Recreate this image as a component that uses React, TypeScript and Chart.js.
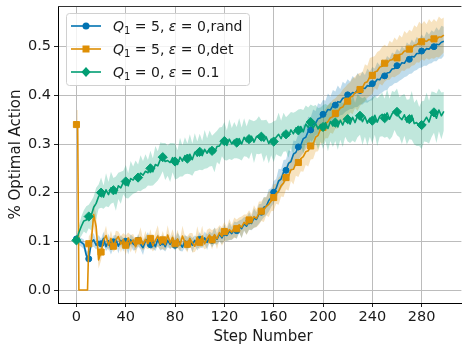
import React, { useEffect, useRef } from 'react';
import { Chart, registerables } from 'chart.js';

Chart.register(...registerables);

// ---------- data (values in thousandths of "optimal action" fraction) ----------
const STEP = 2; // every second step is listed
const X_TICKS = [0, 40, 80, 120, 160, 200, 240, 280];
const Y_TICKS = [0, 0.1, 0.2, 0.3, 0.4, 0.5];
const SERIES_NAMES = ['Q1=5, eps=0,rand', 'Q1=5, eps=0,det', 'Q1=0, eps=0.1'];
const COLORS = ['#0173b2', '#de8f05', '#029e73'];

const RAND_MEAN = [
  105, 100, 98, 94, 72, 64, 98, 103, 92, 100,
  95, 106, 89, 101, 84, 99, 104, 90, 102, 93,
  100, 88, 103, 95, 91, 102, 94, 87, 101, 105,
  93, 100, 89, 104, 92, 99, 89, 102, 94, 101,
  92, 104, 95, 88, 101, 94, 103, 92, 102, 95,
  104, 96, 107, 98, 109, 102, 112, 104, 115, 107,
  118, 112, 121, 116, 125, 122, 130, 126, 136, 131,
  142, 137, 148, 145, 156, 160, 170, 172, 184, 190,
  201, 209, 224, 228, 242, 246, 260, 264, 279, 283,
  294, 298, 311, 314, 326, 329, 340, 343, 352, 354,
  361, 363, 371, 370, 379, 380, 387, 386, 394, 395,
  401, 400, 406, 405, 411, 410, 415, 414, 420, 419,
  424, 426, 433, 432, 440, 440, 446, 447, 454, 455,
  461, 460, 467, 466, 474, 474, 480, 479, 486, 486,
  491, 490, 496, 495, 500, 500, 505, 504, 509, 511,
];
const RAND_SD = [
  6, 8, 9, 10, 11, 12, 11, 14, 9, 13,
  10, 14, 9, 15, 11, 13, 9, 15, 10, 14,
  9, 15, 11, 14, 9, 13, 10, 15, 9, 14,
  10, 15, 9, 13, 11, 15, 10, 14, 9, 13,
  11, 14, 15, 9, 13, 14, 9, 15, 10, 14,
  15, 10, 13, 16, 11, 14, 17, 11, 15, 13,
  16, 12, 18, 13, 16, 17, 13, 19, 14, 17,
  18, 14, 20, 15, 20, 17, 21, 18, 23, 19,
  23, 19, 25, 20, 25, 22, 27, 21, 28, 23,
  27, 23, 29, 24, 30, 26, 31, 25, 32, 27,
  30, 26, 33, 27, 32, 28, 33, 27, 34, 29,
  32, 28, 34, 29, 35, 29, 34, 28, 35, 30,
  34, 29, 35, 30, 34, 30, 35, 29, 34, 30,
  35, 30, 34, 29, 35, 30, 35, 29, 34, 30,
  34, 29, 35, 30, 34, 30, 35, 29, 34, 30,
];

const DET_MEAN = [
  340, 0, 0, 0, 0, 95, 100, 155, 130, 62,
  78, 102, 112, 92, 106, 90, 103, 110, 94, 104,
  92, 107, 95, 103, 89, 101, 108, 93, 104, 95,
  106, 91, 102, 111, 94, 103, 93, 113, 97, 108,
  95, 105, 92, 111, 98, 94, 106, 97, 90, 109,
  98, 111, 95, 106, 113, 103, 114, 105, 118, 110,
  120, 115, 124, 119, 128, 126, 134, 129, 139, 134,
  144, 140, 151, 147, 158, 162, 165, 172, 176, 183,
  190, 198, 203, 214, 220, 231, 234, 247, 248, 260,
  262, 270, 274, 284, 286, 296, 300, 314, 318, 330,
  334, 342, 346, 354, 356, 363, 366, 374, 376, 385,
  388, 396, 398, 406, 406, 412, 416, 426, 428, 438,
  441, 448, 450, 458, 460, 466, 466, 472, 473, 478,
  477, 484, 485, 491, 491, 495, 496, 503, 504, 509,
  510, 512, 511, 515, 513, 516, 515, 520, 520, 524,
];
const DET_SD = [
  30, 0, 0, 0, 0, 15, 18, 24, 25, 18,
  17, 12, 20, 11, 16, 12, 19, 10, 17, 13,
  20, 11, 18, 12, 15, 10, 21, 12, 17, 11,
  19, 12, 16, 22, 11, 18, 12, 20, 13, 17,
  11, 19, 12, 21, 13, 17, 11, 20, 12, 22,
  13, 21, 12, 18, 14, 20, 13, 21, 15, 19,
  20, 14, 22, 15, 21, 19, 15, 22, 16, 21,
  20, 16, 23, 18, 24, 20, 25, 19, 26, 21,
  27, 21, 28, 22, 29, 24, 30, 23, 31, 25,
  30, 26, 31, 27, 32, 28, 31, 30, 33, 29,
  33, 30, 34, 31, 35, 31, 34, 30, 36, 32,
  35, 31, 37, 32, 38, 34, 32, 38, 33, 39,
  38, 33, 39, 34, 40, 38, 34, 40, 35, 41,
  36, 40, 34, 41, 36, 40, 35, 41, 36, 42,
  36, 41, 35, 42, 37, 41, 36, 42, 37, 36,
];
// extra odd steps of the deterministic run: [step, mean, sd]
const DET_EXTRA = [
  [1, 340, 30],
  [9, 0, 0],
];

const EPS_MEAN = [
  102, 118, 131, 142, 144, 151, 153, 170, 178, 192,
  200, 191, 206, 196, 210, 205, 198, 214, 210, 221,
  223, 214, 229, 226, 233, 231, 240, 236, 244, 241,
  250, 243, 258, 255, 268, 273, 264, 266, 262, 272,
  264, 258, 273, 265, 276, 270, 279, 268, 283, 275,
  284, 276, 289, 281, 291, 286, 282, 295, 296, 305,
  306, 297, 310, 300, 308, 303, 311, 300, 314, 305,
  310, 316, 304, 315, 318, 315, 306, 314, 301, 310,
  305, 314, 320, 311, 324, 320, 316, 329, 321, 333,
  328, 336, 325, 341, 334, 345, 333, 342, 331, 340,
  335, 344, 332, 346, 337, 344, 335, 349, 339, 352,
  351, 341, 355, 344, 358, 358, 346, 356, 343, 353,
  348, 359, 345, 357, 361, 353, 364, 351, 362, 368,
  366, 355, 350, 360, 345, 351, 359, 342, 344, 336,
  339, 347, 355, 345, 361, 365, 353, 370, 358, 367,
];
const EPS_SD = [
  5, 14, 20, 22, 28, 24, 30, 22, 32, 25,
  31, 24, 34, 26, 33, 25, 35, 27, 33, 24,
  34, 26, 36, 28, 33, 27, 37, 29, 35, 26,
  36, 28, 38, 30, 35, 29, 38, 31, 40, 30,
  37, 29, 40, 32, 38, 31, 41, 33, 39, 30,
  37, 30, 40, 31, 37, 31, 40, 32, 38, 30,
  39, 31, 41, 33, 37, 32, 42, 34, 39, 31,
  41, 33, 43, 35, 39, 34, 43, 36, 41, 33,
  42, 35, 44, 37, 40, 35, 44, 37, 43, 34,
  43, 36, 45, 38, 41, 36, 45, 38, 43, 35,
  45, 38, 47, 40, 43, 38, 47, 40, 45, 37,
  46, 39, 48, 41, 44, 39, 48, 41, 46, 38,
  47, 40, 49, 42, 45, 40, 49, 42, 47, 39,
  48, 41, 50, 43, 46, 41, 50, 43, 48, 40,
  49, 42, 51, 44, 47, 42, 51, 44, 48, 40,
];

// ---------- helpers ----------
type P = { x: number; y: number; s: number };
function buildSeries(mean: number[], sd: number[], extra: number[][] = []): P[] {
  const pts: P[] = mean.map((m, i) => ({ x: i * STEP, y: m / 1000, s: sd[i] / 1000 }));
  extra.forEach(([x, m, s]) => pts.push({ x, y: m / 1000, s: s / 1000 }));
  pts.sort((a, b) => a.x - b.x);
  return pts;
}
function rgba(hex: string, a: number) {
  const n = parseInt(hex.slice(1), 16);
  return `rgba(${(n >> 16) & 255},${(n >> 8) & 255},${n & 255},${a})`;
}

const FONT = '"DejaVu Sans"';
const MARKERS = [
  { style: 'circle', r: 3 },
  { style: 'rect', r: 4.3 },
  { style: 'rectRot', r: 4.6 },
];

function drawMarker(ctx: CanvasRenderingContext2D, kind: number, x: number, y: number) {
  ctx.beginPath();
  if (kind === 0) {
    ctx.arc(x, y, 3.5, 0, Math.PI * 2);
  } else if (kind === 1) {
    ctx.rect(x - 3.5, y - 3.5, 7, 7);
  } else {
    ctx.moveTo(x, y - 5);
    ctx.lineTo(x + 4.6, y);
    ctx.lineTo(x, y + 5);
    ctx.lineTo(x - 4.6, y);
    ctx.closePath();
  }
  ctx.fill();
}

type Seg = { t: string; it?: boolean; sub?: boolean };
const LEGEND_TEXT: Seg[][] = [
  [{ t: 'Q', it: true }, { t: '1', sub: true }, { t: ' = 5, ' }, { t: 'ε', it: true }, { t: ' = 0' }, { t: ',rand' }],
  [{ t: 'Q', it: true }, { t: '1', sub: true }, { t: ' = 5, ' }, { t: 'ε', it: true }, { t: ' = 0' }, { t: ',det' }],
  [{ t: 'Q', it: true }, { t: '1', sub: true }, { t: ' = 0, ' }, { t: 'ε', it: true }, { t: ' = 0.1' }],
];

const overlayPlugin = {
  id: 'overlay',
  afterDraw(chart: any) {
    const { ctx, chartArea: a } = chart;
    ctx.save();
    // top spine
    ctx.strokeStyle = '#333';
    ctx.lineWidth = 1;
    ctx.beginPath();
    ctx.moveTo(a.left, a.top + 0.5);
    ctx.lineTo(a.right, a.top + 0.5);
    ctx.stroke();

    // legend box
    const bx = 66.5, by = 13.5, bw = 183, bh = 72;
    ctx.beginPath();
    (ctx as any).roundRect(bx, by, bw, bh, 3);
    ctx.fillStyle = 'rgba(255,255,255,0.8)';
    ctx.fill();
    ctx.strokeStyle = '#d0d0d0';
    ctx.lineWidth = 1;
    ctx.stroke();

    const rows = [26, 49, 72];
    rows.forEach((ry, i) => {
      ctx.strokeStyle = COLORS[i];
      ctx.fillStyle = COLORS[i];
      ctx.lineWidth = 1.6;
      ctx.beginPath();
      ctx.moveTo(71, ry);
      ctx.lineTo(101, ry);
      ctx.stroke();
      drawMarker(ctx, i, 86, ry);
      // text
      let x = 113;
      ctx.fillStyle = '#1a1a1a';
      ctx.textBaseline = 'alphabetic';
      ctx.textAlign = 'left';
      const base = ry + 5;
      LEGEND_TEXT[i].forEach((seg) => {
        if (seg.sub) {
          ctx.font = `10px ${FONT}`;
          ctx.fillText(seg.t, x, base + 3);
        } else {
          ctx.font = `${seg.it ? 'italic ' : ''}14px ${FONT}`;
          ctx.fillText(seg.t, x, base);
        }
        x += ctx.measureText(seg.t).width;
      });
    });

    // axis titles
    ctx.fillStyle = '#1a1a1a';
    ctx.font = `15px ${FONT}`;
    ctx.textAlign = 'center';
    ctx.textBaseline = 'alphabetic';
    ctx.fillText('Step Number', (a.left + 468) / 2, 341);
    ctx.save();
    ctx.translate(19.5, (a.top + a.bottom) / 2);
    ctx.rotate(-Math.PI / 2);
    ctx.fillText('% Optimal Action', 0, 0);
    ctx.restore();

    ctx.restore();
  },
};

export default function App() {
  const ref = useRef<HTMLCanvasElement | null>(null);
  useEffect(() => {
    if (!ref.current) return;
    const all = [
      buildSeries(RAND_MEAN, RAND_SD),
      buildSeries(DET_MEAN, DET_SD, DET_EXTRA),
      buildSeries(EPS_MEAN, EPS_SD),
    ];
    const datasets: any[] = [];
    // bands first (pairs: upper fills to lower)
    all.forEach((pts, i) => {
      datasets.push({
        label: SERIES_NAMES[i] + ' band',
        data: pts.map((p) => ({ x: p.x, y: p.y + p.s })),
        borderWidth: 0,
        borderColor: 'rgba(0,0,0,0)',
        backgroundColor: rgba(COLORS[i], 0.25),
        pointRadius: 0,
        fill: '+1',
        tension: 0,
        order: 10 - i,
      });
      datasets.push({
        label: SERIES_NAMES[i] + ' low',
        data: pts.map((p) => ({ x: p.x, y: p.y - p.s })),
        borderWidth: 0,
        borderColor: 'rgba(0,0,0,0)',
        backgroundColor: 'rgba(0,0,0,0)',
        pointRadius: 0,
        fill: false,
        tension: 0,
        order: 10 - i,
      });
    });
    all.forEach((pts, i) => {
      const m = MARKERS[i];
      datasets.push({
        label: SERIES_NAMES[i],
        data: pts.map((p) => ({ x: p.x, y: p.y })),
        borderColor: COLORS[i],
        backgroundColor: COLORS[i],
        borderWidth: 1.6,
        borderJoinStyle: 'round',
        pointStyle: m.style,
        pointRadius: (c: any) => (c.raw && c.raw.x % 10 === 0 ? m.r : 0),
        pointBackgroundColor: COLORS[i],
        pointBorderColor: COLORS[i],
        pointBorderWidth: 1,
        fill: false,
        tension: 0,
        order: 3 - i,
      });
    });

    const tickFont = { family: FONT, size: 14.5 };
    const chart = new Chart(ref.current, {
      type: 'line',
      data: { datasets },
      options: {
        animation: false,
        responsive: false,
        devicePixelRatio: 1,
        maintainAspectRatio: false,
        layout: { padding: { top: 6, left: 0, right: 0, bottom: 0 } },
        plugins: { legend: { display: false }, tooltip: { enabled: false } },
        events: [],
        scales: {
          x: {
            type: 'linear',
            min: -14.95,
            max: 312.25,
            afterBuildTicks: (s: any) => {
              s.ticks = X_TICKS.map((v) => ({ value: v }));
            },
            afterFit: (s: any) => {
              s.height = 41;
              s.paddingLeft = 0;
              s.paddingRight = 0;
            },
            ticks: { font: tickFont, color: '#1a1a1a', padding: 2, maxRotation: 0, autoSkip: false },
            grid: { color: '#bcbcbc', lineWidth: 1, tickLength: 4, tickColor: '#222' },
            border: { display: true, color: '#000', width: 1 },
          },
          y: {
            type: 'linear',
            min: -0.0267,
            max: 0.5836,
            afterBuildTicks: (s: any) => {
              s.ticks = Y_TICKS.map((v) => ({ value: v }));
            },
            afterFit: (s: any) => {
              s.width = 58;
              s.paddingTop = 0;
              s.paddingBottom = 0;
            },
            ticks: {
              font: tickFont,
              color: '#1a1a1a',
              padding: 3,
              autoSkip: false,
              callback: (v: any) => Number(v).toFixed(1),
            },
            grid: { color: '#bcbcbc', lineWidth: 1, tickLength: 4, tickColor: '#222' },
            border: { display: true, color: '#000', width: 1 },
          },
        },
      } as any,
      plugins: [overlayPlugin],
    });
    return () => chart.destroy();
  }, []);

  return (
    <div style={{ position: 'absolute', left: 0, top: 0, width: 467, height: 344, background: '#fff' }}>
      <canvas ref={ref} width={467} height={344} style={{ display: 'block', width: 467, height: 344 }} />
    </div>
  );
}
